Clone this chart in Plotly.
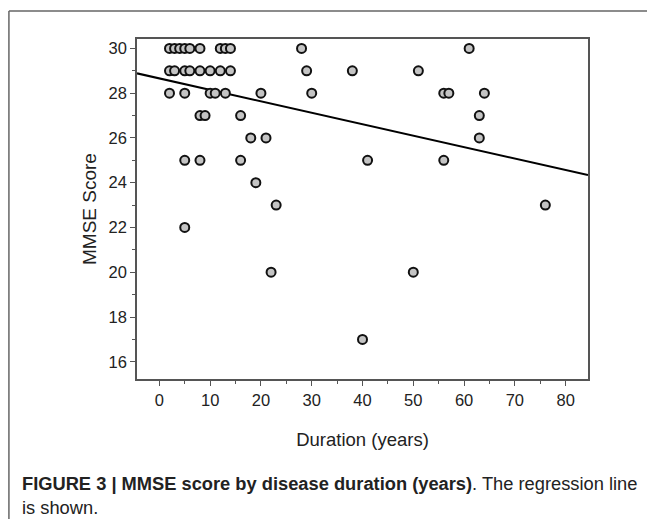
import plotly.graph_objects as go

# Data: (duration in years, MMSE score)
duration = [2, 3, 4, 5, 6, 8, 12, 13, 14, 28, 61,
            2, 3, 5, 6, 8, 10, 12, 14, 29, 38, 51,
            2, 5, 10, 11, 13, 20, 30, 56, 57, 64,
            8, 9, 16, 63,
            18, 21, 63,
            5, 8, 16, 41, 56,
            19,
            23, 76,
            5,
            22, 50,
            40]
mmse = [30, 30, 30, 30, 30, 30, 30, 30, 30, 30, 30,
        29, 29, 29, 29, 29, 29, 29, 29, 29, 29, 29,
        28, 28, 28, 28, 28, 28, 28, 28, 28, 28,
        27, 27, 27, 27,
        26, 26, 26,
        25, 25, 25, 25, 25,
        24,
        23, 23,
        22,
        20, 20,
        17]

# Regression line
reg_intercept = 28.66
reg_slope = -0.0512
x_range = [-4.4, 84.4]
y_range = [15.23, 30.42]

line_x = x_range
line_y = [reg_intercept + reg_slope * v for v in line_x]

fig = go.Figure()
fig.add_trace(go.Scatter(
    x=line_x, y=line_y, mode="lines",
    line=dict(color="black", width=2), hoverinfo="skip", showlegend=False,
))
fig.add_trace(go.Scatter(
    x=duration, y=mmse, mode="markers",
    marker=dict(size=9, color="#c4c4c4", line=dict(color="#111111", width=2)),
    showlegend=False,
))

font_family = "Liberation Sans, Arial, sans-serif"
axis_common = dict(
    showline=True, linecolor="#555555", linewidth=1.5, mirror=True,
    ticks="outside", ticklen=5, tickwidth=1.2, tickcolor="#555555",
    showgrid=False, zeroline=False,
    tickfont=dict(family=font_family, size=16.5, color="#222222"),
)

fig.update_xaxes(
    range=x_range, tickvals=[0, 10, 20, 30, 40, 50, 60, 70, 80],
    minor=dict(ticks="outside", ticklen=3, tickvals=[5, 15, 25, 35, 45, 55, 65, 75],
               tickcolor="#555555", tickwidth=1.2),
    title=dict(text="Duration (years)", font=dict(family=font_family, size=18.5, color="#222222"),
               standoff=26),
    **axis_common,
)
fig.update_yaxes(
    range=y_range, tickvals=[16, 18, 20, 22, 24, 26, 28, 30],
    minor=dict(ticks="outside", ticklen=3, tickvals=[17, 19, 21, 23, 25, 27, 29],
               tickcolor="#555555", tickwidth=1.2),
    title=dict(text="MMSE Score", font=dict(family=font_family, size=19, color="#222222"),
               standoff=7),
    **axis_common,
)

# Outer figure frame (top and left edges visible)
fig.add_shape(type="line", xref="paper", yref="paper",
              x0=-0.284, x1=1.3, y0=1.082, y1=1.082,
              line=dict(color="#666666", width=1.5))
fig.add_shape(type="line", xref="paper", yref="paper",
              x0=-0.284, x1=-0.284, y0=1.082, y1=-0.5,
              line=dict(color="#666666", width=1.5))

fig.add_annotation(
    xref="paper", yref="paper", x=-0.259, y=-0.271, xanchor="left", yanchor="top",
    align="left", showarrow=False,
    text="<b>FIGURE 3 | MMSE score by disease duration (years)</b>. The regression line<br>is shown.",
    font=dict(family=font_family, size=18.3, color="#222222"),
)

fig.update_layout(
    width=647, height=511,
    margin=dict(l=129, r=67, t=31, b=140),
    paper_bgcolor="white", plot_bgcolor="white",
)

fig.write_html("out.html")
